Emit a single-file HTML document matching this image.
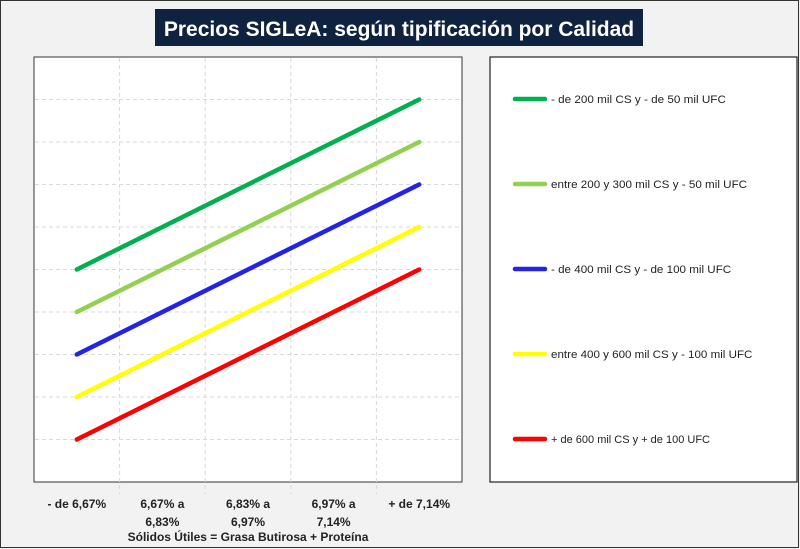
<!DOCTYPE html>
<html><head><meta charset="utf-8"><style>
html,body{margin:0;padding:0;background:#f2f2f2;}
svg{display:block;font-family:"Liberation Sans",sans-serif;}
</style></head><body>
<svg id="chart" width="800" height="549" viewBox="0 0 800 549">
<rect x="0.5" y="0.5" width="798" height="547" fill="#f2f2f2" stroke="#333"/>
<rect x="155" y="9" width="488" height="37" fill="#0f2340"/>
<text x="399" y="36" text-anchor="middle" fill="#fff" font-size="21" font-weight="bold">Precios SIGLeA: según tipificación por Calidad</text>
<rect x="34" y="57" width="428" height="425" fill="#fff" stroke="#333" stroke-width="1"/>
<g id="grid"></g>
<g id="series"></g>
<g id="xlabels"></g>
<text x="248" y="541" text-anchor="middle" font-size="12" font-weight="bold" fill="#222">Sólidos Útiles = Grasa Butirosa + Proteína</text>
<rect x="490" y="57" width="307" height="425" fill="#fff" stroke="#222" stroke-width="1.2"/>
<g id="legend"></g>
</svg>
<script>
const categories = [["- de 6,67%"],["6,67% a","6,83%"],["6,83% a","6,97%"],["6,97% a","7,14%"],["+ de 7,14%"]];
const seriesNames = ["- de 200 mil CS y - de 50 mil UFC","entre 200 y 300 mil CS y - 50 mil UFC","- de 400 mil CS y - de 100 mil UFC","entre 400 y 600 mil CS y - 100 mil UFC","+ de 600 mil CS y + de 100 UFC"];
const seriesColors = ["#00b050","#92d050","#2323e6","#ffff00","#ff0000"];
const s1 = [5,6,7,8,9];
const s2 = [4,5,6,7,8];
const s3 = [3,4,5,6,7];
const s4 = [2,3,4,5,6];
const s5 = [1,2,3,4,5];
const seriesValues = [s1,s2,s3,s4,s5];
const yMax = 10;

const NS="http://www.w3.org/2000/svg";
const px0=34, px1=462, py0=482, py1=57;
const band=(px1-px0)/categories.length;
const xs=i=>px0+band*(i+0.5);
const ys=v=>py0-(v/yMax)*(py0-py1);
function mk(tag,attrs,parent){const e=document.createElementNS(NS,tag);for(const k in attrs)e.setAttribute(k,attrs[k]);parent.appendChild(e);return e;}
const grid=document.getElementById('grid');
for(let v=1;v<yMax;v++){
  const l=mk('line',{x1:px0+1,x2:px1-1,y1:ys(v),y2:ys(v),stroke:'#d9d9d9','stroke-dasharray':'4 3'},grid);
  
  
}
for(let i=1;i<categories.length;i++){
  const x=px0+band*i;
  const l=mk('line',{x1:x,x2:x,y1:py1+1,y2:py0+12,stroke:'#d9d9d9','stroke-dasharray':'4 3'},grid);
  
  
}
const sg=document.getElementById('series');
seriesValues.forEach((vals,si)=>{
  const pts=vals.map((v,i)=>xs(i)+','+ys(v)).join(' ');
  const p=mk('polyline',{points:pts,fill:'none',stroke:seriesColors[si],'stroke-width':4.5,'stroke-linecap':'round'},sg);
  
  
});
const xl=document.getElementById('xlabels');
categories.forEach((lines,i)=>{
  lines.forEach((t,j)=>{
    const e=mk('text',{x:xs(i),y:508+j*18,'text-anchor':'middle','font-size':12,'font-weight':'bold',fill:'#222'},xl);
    e.textContent=t;
    
    
  });
});
const lg=document.getElementById('legend');
seriesNames.forEach((n,i)=>{
  const y=99+i*85;
  const g=mk('g',{},lg);
  
  
  mk('line',{x1:515,x2:545,y1:y,y2:y,stroke:seriesColors[i],'stroke-width':4.5,'stroke-linecap':'round'},g);
  const t=mk('text',{x:551,y:y+4,'font-size':11,fill:'#222',textLength:n.length*5.3,lengthAdjust:'spacingAndGlyphs'},g);
  t.textContent=n;
});
</script>
</body></html>
